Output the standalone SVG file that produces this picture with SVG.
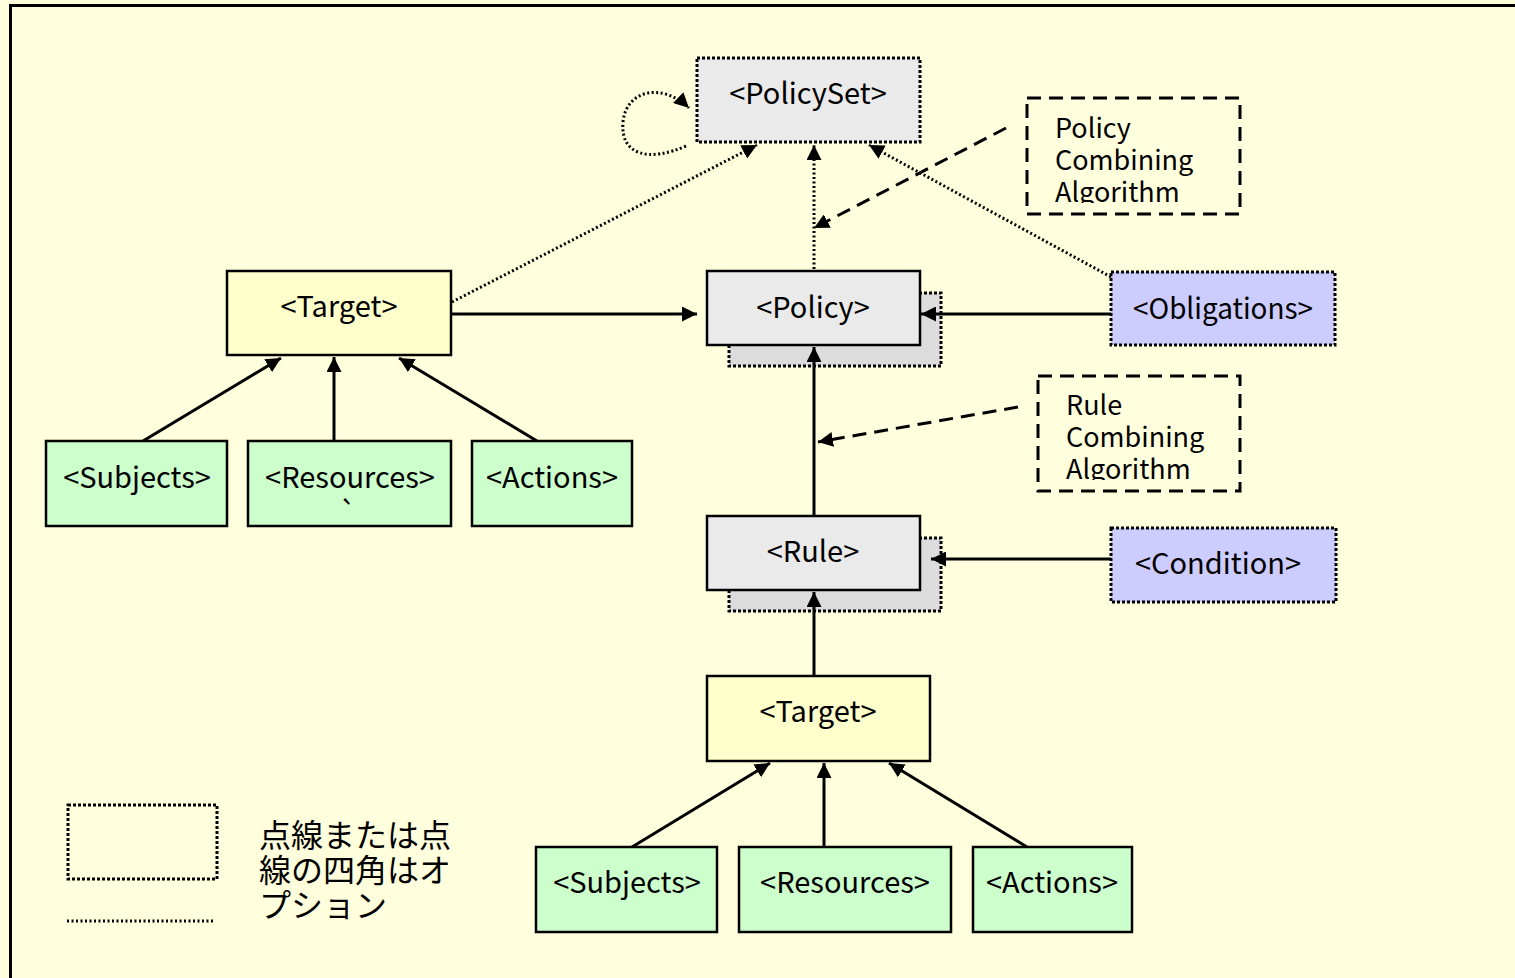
<svg xmlns="http://www.w3.org/2000/svg" width="1515" height="978" viewBox="0 0 1515 978">
  <style>
    text { font-family: "Noto Sans CJK JP", "DejaVu Sans", sans-serif; font-size: 29px; fill: #000; }
    .lbl { text-anchor: middle; }
    .jp { font-size: 32px; }
    .alg { font-size: 27px; }
    .box { stroke: #000; stroke-width: 2.5; }
    .dot { stroke: #000; stroke-width: 3; stroke-dasharray: 3 2; }
    .dash { fill: none; stroke: #000; stroke-width: 3; stroke-dasharray: 14 8; }
    .grey { fill: #EAEAEA; }
    .shadow { fill: #DCDCDC; }
    .yellow { fill: #FFFFCC; }
    .green { fill: #CCFFCC; }
    .purple { fill: #CCCCFF; }
    .solid { fill: none; stroke: #000; stroke-width: 3; }
    .dotted { fill: none; stroke: #000; stroke-width: 3; stroke-dasharray: 2 2.5; }
  </style>
  <defs>
    <marker id="arrow" viewBox="0 0 10 10" refX="10" refY="5" markerWidth="5" markerHeight="5" markerUnits="strokeWidth" orient="auto">
      <path d="M0,0 L10,5 L0,10 z" fill="#000"/>
    </marker>
    <clipPath id="clipPca"><rect x="1028" y="99" width="210" height="104"/></clipPath>
    <clipPath id="clipRca"><rect x="1039" y="377" width="199" height="103"/></clipPath>
  </defs>

  <!-- page background and frame -->
  <rect x="0" y="0" width="1515" height="978" fill="#FFFFDD"/>
  <rect x="10.5" y="5.5" width="1520" height="990" fill="none" stroke="#000" stroke-width="3"/>

  <g id="policyset">
    <rect class="dot grey" x="697" y="58" width="223" height="84"/>
    <text class="lbl" x="808" y="104">&lt;PolicySet&gt;</text>
  </g>

  <g id="policy-combining-algorithm">
    <rect class="dash" x="1027" y="98" width="213" height="116"/>
    <text class="alg" x="1055" y="138" clip-path="url(#clipPca)">Policy<tspan x="1055" dy="32">Combining</tspan><tspan x="1055" dy="32">Algorithm</tspan></text>
  </g>

  <g id="policy">
    <rect class="dot shadow" x="729" y="293" width="212" height="73"/>
    <rect class="box grey" x="707" y="271" width="213" height="74"/>
    <text class="lbl" x="813" y="318">&lt;Policy&gt;</text>
  </g>

  <g id="obligations">
    <rect class="dot purple" x="1111" y="272" width="224" height="73"/>
    <text class="lbl" x="1223" y="319" textLength="180" lengthAdjust="spacingAndGlyphs">&lt;Obligations&gt;</text>
  </g>

  <g id="target-policy">
    <rect class="box yellow" x="227" y="271" width="224" height="84"/>
    <text class="lbl" x="339" y="317">&lt;Target&gt;</text>
  </g>

  <g id="subjects-policy">
    <rect class="box green" x="46" y="441" width="181" height="85"/>
    <text class="lbl" x="137" y="488">&lt;Subjects&gt;</text>
  </g>

  <g id="resources-policy">
    <rect class="box green" x="248" y="441" width="203" height="85"/>
    <text class="lbl" x="350" y="488">&lt;Resources&gt;</text>
    <text class="lbl" x="348" y="523">`</text>
  </g>

  <g id="actions-policy">
    <rect class="box green" x="472" y="441" width="160" height="85"/>
    <text class="lbl" x="552" y="488">&lt;Actions&gt;</text>
  </g>

  <g id="rule-combining-algorithm">
    <rect class="dash" x="1038" y="376" width="202" height="115"/>
    <text class="alg" x="1066" y="415" clip-path="url(#clipRca)">Rule<tspan x="1066" dy="32">Combining</tspan><tspan x="1066" dy="32">Algorithm</tspan></text>
  </g>

  <g id="rule">
    <rect class="dot shadow" x="729" y="538" width="212" height="73"/>
    <rect class="box grey" x="707" y="516" width="213" height="74"/>
    <text class="lbl" x="813" y="562">&lt;Rule&gt;</text>
  </g>

  <g id="condition">
    <rect class="dot purple" x="1111" y="528" width="225" height="74"/>
    <text class="lbl" x="1218" y="574">&lt;Condition&gt;</text>
  </g>

  <g id="target-rule">
    <rect class="box yellow" x="707" y="676" width="223" height="85"/>
    <text class="lbl" x="818" y="722">&lt;Target&gt;</text>
  </g>

  <g id="subjects-rule">
    <rect class="box green" x="536" y="847" width="181" height="85"/>
    <text class="lbl" x="627" y="893">&lt;Subjects&gt;</text>
  </g>

  <g id="resources-rule">
    <rect class="box green" x="739" y="847" width="212" height="85"/>
    <text class="lbl" x="845" y="893">&lt;Resources&gt;</text>
  </g>

  <g id="actions-rule">
    <rect class="box green" x="973" y="847" width="159" height="85"/>
    <text class="lbl" x="1052" y="893">&lt;Actions&gt;</text>
  </g>

  <!-- legend -->
  <g id="legend">
    <rect class="dot" fill="none" x="68" y="805" width="149" height="74"/>
    <line class="dotted" x1="67" y1="921" x2="213" y2="921"/>
    <text class="jp" x="259" y="847">点線または点<tspan x="259" dy="35">線の四角はオ</tspan><tspan x="259" dy="35">プション</tspan></text>
  </g>

  <!-- connectors, drawn on top so arrowheads stay visible over the node shadows -->
  <g id="connectors">
    <path class="dotted" d="M686,146 C650,162 620,156 623,122 C626,90 662,82 689,108" marker-end="url(#arrow)"/>
    <line class="dotted" x1="452" y1="302" x2="757" y2="145" marker-end="url(#arrow)"/>
    <line class="dotted" x1="814" y1="269" x2="814" y2="145" marker-end="url(#arrow)"/>
    <line class="dotted" x1="1111" y1="277" x2="869" y2="145" marker-end="url(#arrow)"/>
    <line class="dash" x1="1006" y1="128" x2="814" y2="228" marker-end="url(#arrow)"/>
    <line class="solid" x1="452" y1="314" x2="697" y2="314" marker-end="url(#arrow)"/>
    <line class="solid" x1="1111" y1="314" x2="921" y2="314" marker-end="url(#arrow)"/>
    <line class="solid" x1="814" y1="516" x2="814" y2="347" marker-end="url(#arrow)"/>
    <line class="dash" x1="1018" y1="407" x2="818" y2="442" marker-end="url(#arrow)"/>
    <line class="solid" x1="1111" y1="559" x2="931" y2="559" marker-end="url(#arrow)"/>
    <line class="solid" x1="814" y1="676" x2="814" y2="592" marker-end="url(#arrow)"/>
    <line class="solid" x1="143" y1="441" x2="281" y2="358" marker-end="url(#arrow)"/>
    <line class="solid" x1="334" y1="441" x2="334" y2="357" marker-end="url(#arrow)"/>
    <line class="solid" x1="537" y1="441" x2="399" y2="358" marker-end="url(#arrow)"/>
    <line class="solid" x1="632" y1="847" x2="770" y2="763" marker-end="url(#arrow)"/>
    <line class="solid" x1="824" y1="847" x2="824" y2="763" marker-end="url(#arrow)"/>
    <line class="solid" x1="1027" y1="847" x2="889" y2="763" marker-end="url(#arrow)"/>
  </g>
</svg>
